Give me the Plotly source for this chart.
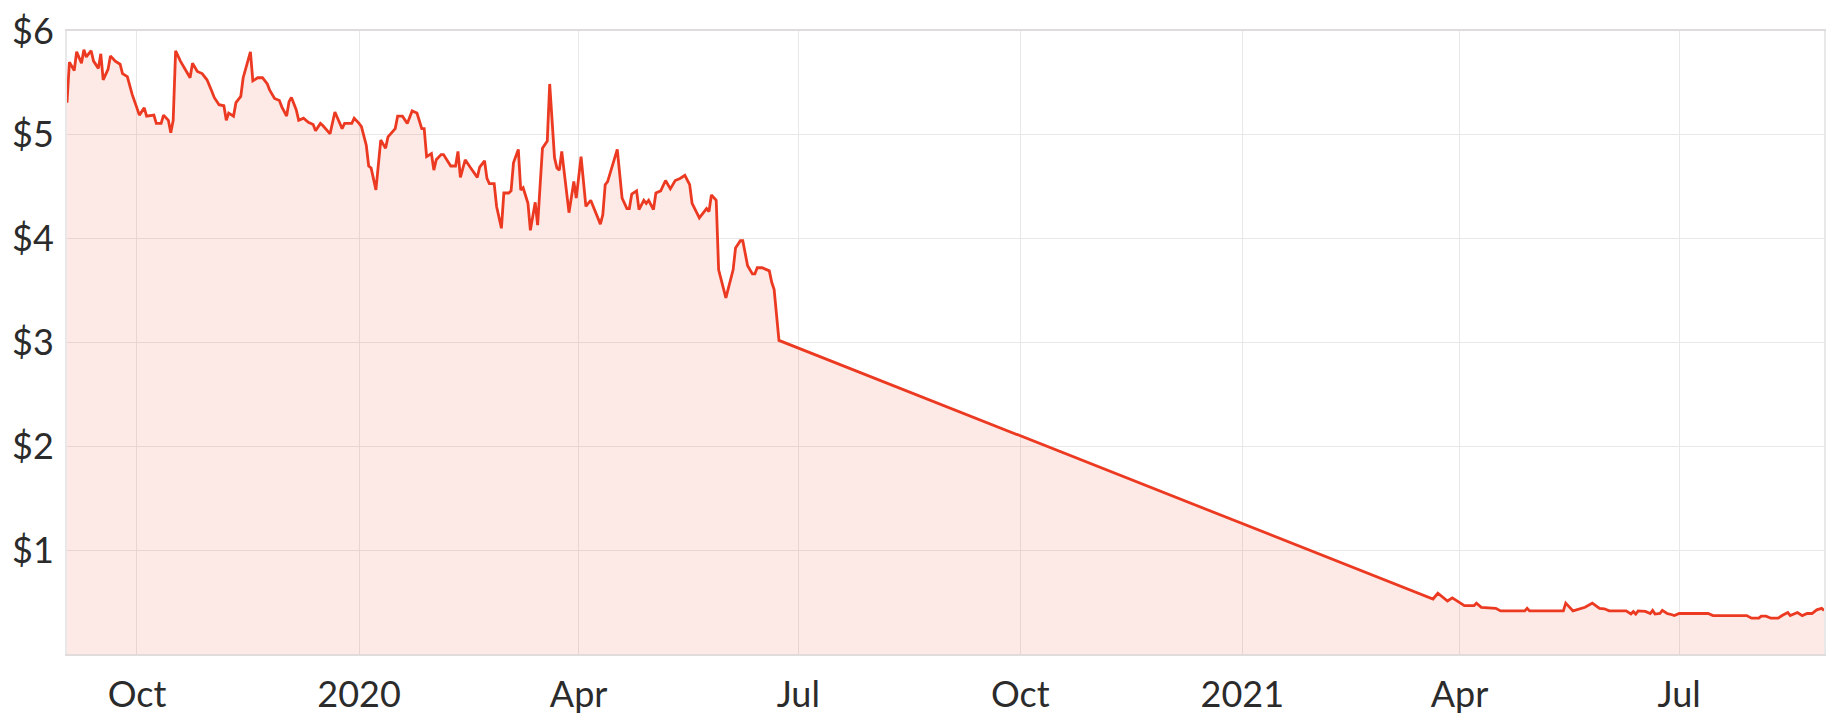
import plotly.graph_objects as go

# ---- data ----
dates_2019 = [
    "2019-09-02", "2019-09-03", "2019-09-05", "2019-09-06", "2019-09-08", "2019-09-09",
    "2019-09-10", "2019-09-12", "2019-09-13", "2019-09-15", "2019-09-16", "2019-09-17",
    "2019-09-19", "2019-09-20", "2019-09-22", "2019-09-24", "2019-09-25", "2019-09-27",
    "2019-09-29", "2019-10-02", "2019-10-04", "2019-10-05", "2019-10-08", "2019-10-09",
    "2019-10-11", "2019-10-12", "2019-10-14", "2019-10-15", "2019-10-16", "2019-10-17",
    "2019-10-19", "2019-10-21", "2019-10-23", "2019-10-24", "2019-10-26", "2019-10-28",
    "2019-10-30", "2019-11-01", "2019-11-02", "2019-11-04", "2019-11-06", "2019-11-07",
    "2019-11-08", "2019-11-10", "2019-11-11", "2019-11-13", "2019-11-14", "2019-11-17",
    "2019-11-18", "2019-11-20", "2019-11-22", "2019-11-24", "2019-11-25", "2019-11-27",
    "2019-11-29", "2019-11-30", "2019-12-02", "2019-12-03", "2019-12-04", "2019-12-06",
    "2019-12-07", "2019-12-09", "2019-12-11", "2019-12-13", "2019-12-14", "2019-12-16",
    "2019-12-17", "2019-12-20", "2019-12-22", "2019-12-25", "2019-12-26", "2019-12-29",
    "2019-12-30",
]
prices_2019 = [
    5.31, 5.70, 5.62, 5.80, 5.69, 5.82,
    5.75, 5.81, 5.71, 5.64, 5.78, 5.53,
    5.63, 5.76, 5.71, 5.68, 5.59, 5.56,
    5.39, 5.19, 5.26, 5.18, 5.19, 5.11,
    5.11, 5.19, 5.14, 5.02, 5.14, 5.81,
    5.71, 5.63, 5.55, 5.69, 5.61, 5.59,
    5.53, 5.42, 5.36, 5.29, 5.28, 5.14,
    5.21, 5.18, 5.31, 5.37, 5.55, 5.80,
    5.52, 5.55, 5.55, 5.49, 5.43, 5.35,
    5.33, 5.27, 5.18, 5.32, 5.36, 5.24,
    5.14, 5.16, 5.12, 5.10, 5.04, 5.11,
    5.09, 5.01, 5.22, 5.06, 5.11, 5.11,
    5.16,
]

dates_2020 = [
    "2020-01-01", "2020-01-02", "2020-01-04", "2020-01-05", "2020-01-06", "2020-01-08",
    "2020-01-10", "2020-01-12", "2020-01-13", "2020-01-16", "2020-01-17", "2020-01-19",
    "2020-01-21", "2020-01-23", "2020-01-25", "2020-01-27", "2020-01-28", "2020-01-29",
    "2020-01-31", "2020-02-01", "2020-02-02", "2020-02-04", "2020-02-05", "2020-02-08",
    "2020-02-10", "2020-02-11", "2020-02-12", "2020-02-14", "2020-02-16", "2020-02-19",
    "2020-02-20", "2020-02-22", "2020-02-23", "2020-02-24", "2020-02-26", "2020-02-27",
    "2020-02-29", "2020-03-01", "2020-03-03", "2020-03-04", "2020-03-05", "2020-03-07",
    "2020-03-08", "2020-03-09", "2020-03-11", "2020-03-12", "2020-03-14", "2020-03-15",
    "2020-03-17", "2020-03-19", "2020-03-20", "2020-03-22", "2020-03-23", "2020-03-24",
    "2020-03-25", "2020-03-28", "2020-03-30", "2020-03-31", "2020-04-02", "2020-04-04",
    "2020-04-06", "2020-04-08", "2020-04-10", "2020-04-11", "2020-04-12", "2020-04-13",
    "2020-04-15", "2020-04-17", "2020-04-19", "2020-04-21", "2020-04-22", "2020-04-23",
    "2020-04-25", "2020-04-26", "2020-04-28", "2020-04-29", "2020-04-30", "2020-05-02",
    "2020-05-03", "2020-05-05", "2020-05-07", "2020-05-09", "2020-05-11", "2020-05-13",
    "2020-05-15", "2020-05-17", "2020-05-18", "2020-05-21", "2020-05-24", "2020-05-25",
    "2020-05-26", "2020-05-28", "2020-05-29", "2020-06-01", "2020-06-04", "2020-06-05",
    "2020-06-07", "2020-06-08", "2020-06-10", "2020-06-12", "2020-06-13", "2020-06-14",
    "2020-06-16", "2020-06-19", "2020-06-20", "2020-06-21", "2020-06-23",
]
prices_2020 = [
    5.11, 5.08, 4.90, 4.70, 4.68, 4.47,
    4.95, 4.87, 4.98, 5.06, 5.18, 5.18,
    5.11, 5.23, 5.21, 5.06, 5.06, 4.79,
    4.82, 4.66, 4.76, 4.81, 4.81, 4.70,
    4.70, 4.84, 4.59, 4.76, 4.69, 4.59,
    4.69, 4.75, 4.58, 4.53, 4.53, 4.31,
    4.10, 4.44, 4.44, 4.46, 4.73, 4.86,
    4.47, 4.49, 4.34, 4.08, 4.35, 4.13,
    4.87, 4.94, 5.49, 4.78, 4.68, 4.66,
    4.84, 4.25, 4.55, 4.39, 4.79, 4.31,
    4.37, 4.26, 4.14, 4.23, 4.52, 4.55,
    4.70, 4.86, 4.39, 4.29, 4.29, 4.43,
    4.46, 4.28, 4.37, 4.34, 4.37, 4.28,
    4.44, 4.46, 4.56, 4.48, 4.56, 4.58,
    4.61, 4.52, 4.34, 4.20, 4.29, 4.26,
    4.42, 4.37, 3.70, 3.43, 3.70, 3.91,
    3.98, 3.98, 3.74, 3.66, 3.66, 3.72,
    3.72, 3.69, 3.58, 3.51, 3.02,
]

dates_2021 = [
    "2021-03-21", "2021-03-23", "2021-03-27", "2021-03-29", "2021-03-31", "2021-04-03",
    "2021-04-07", "2021-04-08", "2021-04-10", "2021-04-16", "2021-04-18", "2021-04-28",
    "2021-04-29", "2021-04-30", "2021-05-14", "2021-05-15", "2021-05-18", "2021-05-21",
    "2021-05-23", "2021-05-26", "2021-05-29", "2021-05-31", "2021-06-02", "2021-06-09",
    "2021-06-11", "2021-06-12", "2021-06-13", "2021-06-14", "2021-06-17", "2021-06-19",
    "2021-06-20", "2021-06-21", "2021-06-23", "2021-06-24", "2021-06-26", "2021-06-27",
    "2021-06-29", "2021-07-01", "2021-07-13", "2021-07-15", "2021-07-29", "2021-07-31",
    "2021-08-03", "2021-08-04", "2021-08-06", "2021-08-08", "2021-08-11", "2021-08-13",
    "2021-08-15", "2021-08-16", "2021-08-19", "2021-08-21", "2021-08-23", "2021-08-25",
    "2021-08-27", "2021-08-29", "2021-08-30",
]
prices_2021 = [
    0.53, 0.585, 0.51, 0.54, 0.51, 0.465,
    0.465, 0.49, 0.45, 0.44, 0.415, 0.415,
    0.44, 0.415, 0.415, 0.49, 0.415, 0.44,
    0.45, 0.49, 0.44, 0.435, 0.415, 0.415,
    0.385, 0.41, 0.385, 0.415, 0.41, 0.39,
    0.42, 0.385, 0.39, 0.42, 0.39, 0.385,
    0.37, 0.39, 0.39, 0.37, 0.37, 0.345,
    0.345, 0.365, 0.365, 0.345, 0.345, 0.375,
    0.40, 0.37, 0.40, 0.37, 0.39, 0.39,
    0.425, 0.44, 0.42,
]

y_tick_values = [1, 2, 3, 4, 5, 6]
y_tick_labels = ["$1", "$2", "$3", "$4", "$5", "$6"]
x_tick_values = ["2019-10-01", "2020-01-01", "2020-04-01", "2020-07-01",
                 "2020-10-01", "2021-01-01", "2021-04-01", "2021-07-01"]
x_tick_labels = ["Oct", "2020", "Apr", "Jul", "Oct", "2021", "Apr", "Jul"]

dates = dates_2019 + dates_2020 + dates_2021
prices = prices_2019 + prices_2020 + prices_2021

LINE = "#EC3A22"
FILL = "rgba(240, 70, 45, 0.12)"
GRID = "#E8E8E8"
TEXT = "#2B2B2B"
FONT = "Lato, Inter, 'Open Sans', sans-serif"

fig = go.Figure()
fig.add_trace(go.Scatter(
    x=dates, y=prices, mode="lines",
    line=dict(color=LINE, width=2.8),
    fill="tozeroy", fillcolor=FILL,
    hoverinfo="x+y", showlegend=False,
))

# page body has an 8px default margin, so the figure is sized to fit inside it
fig.update_layout(
    width=1837, height=718,
    margin=dict(l=59, r=21, t=23, b=72),
    paper_bgcolor="white", plot_bgcolor="white",
    font=dict(family=FONT, size=36, color=TEXT),
    showlegend=False,
)
fig.update_xaxes(
    type="date",
    range=[dates[0], dates[-1]],
    tickvals=x_tick_values, ticktext=x_tick_labels,
    showgrid=True, gridcolor=GRID, gridwidth=1,
    showline=True, linecolor="#E0DCDC", linewidth=2, mirror=True,
    ticks="", ticklabelstandoff=8, ticklabeloverflow="allow",
    zeroline=False, automargin=False,
)
fig.update_yaxes(
    range=[0, 6],
    tickvals=y_tick_values, ticktext=y_tick_labels,
    showgrid=True, gridcolor=GRID, gridwidth=1,
    showline=True, linecolor=GRID, linewidth=2, mirror=True,
    ticks="", ticklabelstandoff=4, ticklabeloverflow="allow",
    zeroline=False, automargin=False,
)

fig.write_html("out.html")
